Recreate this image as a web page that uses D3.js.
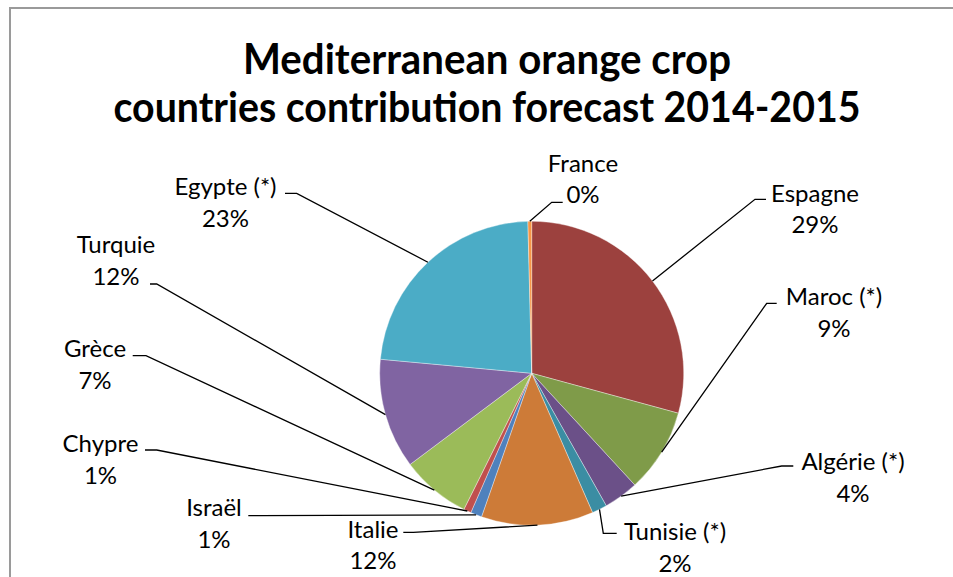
<!DOCTYPE html>
<html>
<head>
<meta charset="utf-8">
<script src="https://cdn.jsdelivr.net/npm/d3@7"></script>
<style>
  html, body { margin: 0; padding: 0; background: #fff; }
  svg { display: block; }
</style>
</head>
<body>
<svg id="chart" width="953" height="577"></svg>
<script>
// ---- data ----
const countries = ["Espagne", "Maroc (*)", "Algérie (*)", "Tunisie (*)", "Italie", "Israël", "Chypre", "Grèce", "Turquie", "Egypte (*)", "France"];
const shares = [29.2, 8.9, 3.7, 1.6, 11.9, 1.2, 0.8, 7.4, 11.7, 23.1, 0.4];
const sliceColors = ["#9C413E", "#7F9B49", "#6B5088", "#3B8DA3", "#CD7B38", "#4F81BD", "#C0504D", "#9BBB59", "#8064A2", "#4BACC6", "#F79646"];
const titleLines = ["Mediterranean orange crop", "countries contribution forecast 2014-2015"];

// ---- layout (positions only) ----
const W = 953, H = 577;
const cx = 531.7, cy = 373.3, R = 152;
// label text centre x, first-line baseline, leader elbow and leader end
const labelLayout = [
  { x: 815, y: 201.5, elbow: [755, 199.3], end: [766, 199.3] },
  { x: 834, y: 305,   elbow: [766.7, 303.3], end: [776.7, 303.3] },
  { x: 853, y: 470,   elbow: [781.7, 466], end: [793.3, 466] },
  { x: 675, y: 540,   elbow: [603.3, 533.3], end: [616.7, 533.3] },
  { x: 373, y: 537.5, elbow: [413.3, 532.3], end: [403.3, 532.3] },
  { x: 214, y: 516,   elbow: [260, 515.7], end: [248.3, 515.7] },
  { x: 100.5, y: 452, elbow: [156.7, 450], end: [145, 450] },
  { x: 95,  y: 357,   elbow: [146, 355.7], end: [132.7, 355.7] },
  { x: 116, y: 253,   elbow: [156.7, 284], end: [150, 284] },
  { x: 225.5, y: 195, elbow: [296.7, 193.3], end: [285, 193.3] },
  { x: 583, y: 171.5, elbow: [551.7, 202.3], end: [562.7, 202.3] }
];
const lineGap = 31.5;

const svg = d3.select("#chart");

// frame
svg.append("rect")
  .attr("x", 10).attr("y", 8)
  .attr("width", 1000).attr("height", 700)
  .attr("fill", "#fff")
  .attr("stroke", "#9a9a9a")
  .attr("stroke-width", 2);

// title
const titleY = [74, 122];
const titleW = [488, 747];
svg.selectAll("text.title")
  .data(titleLines)
  .join("text")
  .attr("class", "title")
  .attr("x", 487)
  .attr("y", (d, i) => titleY[i])
  .attr("text-anchor", "middle")
  .attr("font-family", "Lato, 'Open Sans', sans-serif")
  .attr("font-weight", "bold")
  .attr("font-size", 42)
  .attr("textLength", (d, i) => titleW[i])
  .attr("lengthAdjust", "spacingAndGlyphs")
  .attr("fill", "#000")
  .text(d => d);

// pie
const total = d3.sum(shares);
const pie = d3.pie().sort(null).value(d => d).startAngle(0).endAngle(2 * Math.PI);
const arcs = pie(shares);
const arc = d3.arc().innerRadius(0).outerRadius(R);

const g = svg.append("g").attr("transform", `translate(${cx},${cy})`);
g.selectAll("path.slice")
  .data(arcs)
  .join("path")
  .attr("class", "slice")
  .attr("d", arc)
  .attr("fill", (d, i) => sliceColors[i])
  .attr("stroke", "#ffffff")
  .attr("stroke-opacity", 0.6)
  .attr("stroke-width", 0.6);

// leader lines
function edgePoint(d) {
  const a = (d.startAngle + d.endAngle) / 2;
  return [cx + R * Math.sin(a), cy - R * Math.cos(a)];
}
svg.selectAll("polyline.leader")
  .data(arcs)
  .join("polyline")
  .attr("class", "leader")
  .attr("points", (d, i) => {
    const p = edgePoint(d);
    const L = labelLayout[i];
    return [p, L.elbow, L.end].map(q => q.join(",")).join(" ");
  })
  .attr("fill", "none")
  .attr("stroke", "#000")
  .attr("stroke-width", 1.3);

// labels
const labels = svg.selectAll("text.lbl")
  .data(arcs)
  .join("text")
  .attr("class", "lbl")
  .attr("text-anchor", "middle")
  .attr("font-family", "Lato, 'Open Sans', sans-serif")
  .attr("font-size", 24)
  .attr("fill", "#000");
labels.append("tspan")
  .attr("x", (d, i) => labelLayout[i].x)
  .attr("y", (d, i) => labelLayout[i].y)
  .text((d, i) => countries[i]);
labels.append("tspan")
  .attr("x", (d, i) => labelLayout[i].x)
  .attr("y", (d, i) => labelLayout[i].y + lineGap)
  .text(d => Math.round(d.value / total * 100) + "%");
</script>
</body>
</html>
